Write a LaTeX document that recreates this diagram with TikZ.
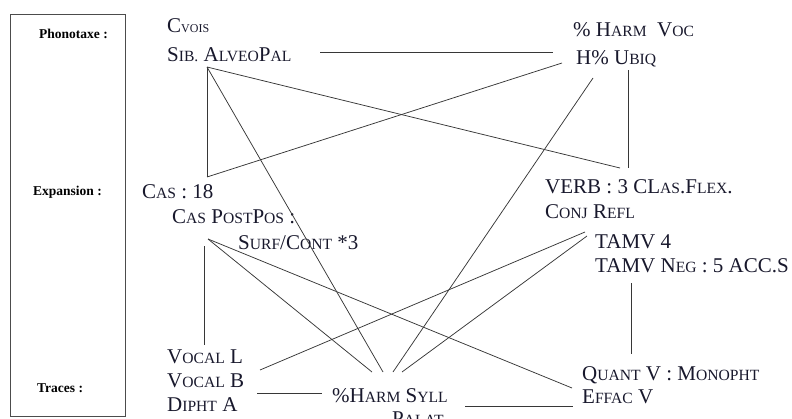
\documentclass[tikz,border=0pt]{standalone}
\usepackage{fontspec}
\setmainfont{Liberation Serif}
\newcommand\sk[1]{{\fontsize{15.6}{15.6}\selectfont #1}}
\newcommand\skk[1]{{\fontsize{12}{12}\selectfont #1}}
\definecolor{txtc}{RGB}{24,24,44}
\definecolor{linec}{RGB}{55,55,55}
\tikzset{
  lbl/.style={anchor=base west, inner sep=0pt, font=\fontsize{13.5}{14}\selectfont\bfseries, text=black},
  itm/.style={anchor=base west, inner sep=0pt, font=\fontsize{21}{22}\selectfont, text=txtc},
  conn/.style={draw=linec, line width=0.75pt},
  frame/.style={draw=black!70, line width=0.9pt}
}
\begin{document}
\begin{tikzpicture}[x=1pt,y=-1pt]
\useasboundingbox (0,0) rectangle (792,418);
% left frame and level labels
\node[frame, minimum width=115pt, minimum height=402pt, anchor=north west, inner sep=0pt] (box) at (10,14) {};
\node[lbl] (lphon) at (39,38) {Phonotaxe :};
\node[lbl] (lexp) at (33,195) {Expansion :};
\node[lbl] (ltr) at (37,392) {Traces :};
% text items
\node[itm] (cvois) at (167,32) {C\skk{VOIS}};
\node[itm] (sib) at (167,61) {S\sk{IB.} A\sk{LVEO}P\sk{AL}};
\node[itm] (harmvoc) at (573,36) {\% H\sk{ARM}\ \ V\sk{OC}};
\node[itm] (hubiq) at (576,64) {H\% U\sk{BIQ}};
\node[itm] (cas) at (142,198) {C\sk{AS} : 18};
\node[itm] (caspp) at (172,223) {C\sk{AS} P\sk{OST}P\sk{OS} :};
\node[itm] (surf) at (238,249) {S\sk{URF}/C\sk{ONT} *3};
\node[itm] (verb) at (545,193) {VERB : 3 CL\sk{AS}.F\sk{LEX}.};
\node[itm] (conj) at (545,218) {C\sk{ONJ} R\sk{EFL}};
\node[itm] (tamv) at (595,248) {TAMV 4};
\node[itm] (tneg) at (595,272) {TAMV N\sk{EG} : 5 ACC.S};
\node[itm] (vocl) at (167,363) {V\sk{OCAL} L};
\node[itm] (vocb) at (167,387) {V\sk{OCAL} B};
\node[itm] (dipht) at (167,411) {D\sk{IPHT} A};
\node[itm] (hsyll) at (332,402) {\%H\sk{ARM} S\sk{YLL}};
\node[itm] (palat) at (392,425) {P\sk{ALAT}};
\node[itm] (quant) at (582,380) {Q\sk{UANT} V : M\sk{ONOPHT}};
\node[itm] (effac) at (582,403) {E\sk{FFAC} V};
% connection points
\coordinate (sibR) at (320,52);
\coordinate (hubL) at (553,52);
\coordinate (sibA) at (207,67);
\coordinate (verbTL) at (620,168);
\coordinate (casT) at (207,177);
\coordinate (hsA) at (372,372);
\coordinate (hsB) at (383,372);
\coordinate (hsC) at (393,372);
\coordinate (hsD) at (402,372);
\coordinate (hubLL) at (562,63);
\coordinate (hubB) at (593,78);
\coordinate (hubV) at (628,70);
\coordinate (verbT) at (628,168);
\coordinate (cppB) at (208,239);
\coordinate (effacL) at (572,388);
\coordinate (cppV) at (204,246);
\coordinate (voclT) at (204,345);
\coordinate (tamA) at (585,232);
\coordinate (tamB) at (587,236);
\coordinate (vocbR) at (260,370);
\coordinate (tnegB) at (631,283);
\coordinate (quantT) at (631,354);
\coordinate (vocbR2) at (257,393);
\coordinate (hsL) at (322,393);
\coordinate (palatR) at (465,406);
\coordinate (effacL2) at (573,406);
% connectors
\draw[conn] (sibR) -- (hubL);
\draw[conn] (sibA) -- (verbTL);
\draw[conn] (sibA) -- (casT);
\draw[conn] (sibA) -- (hsB);
\draw[conn] (hubLL) -- (casT);
\draw[conn] (hubB) -- (hsC);
\draw[conn] (hubV) -- (verbT);
\draw[conn] (cppB) -- (effacL);
\draw[conn] (cppB) -- (hsA);
\draw[conn] (cppV) -- (voclT);
\draw[conn] (tamA) -- (vocbR);
\draw[conn] (tamB) -- (hsD);
\draw[conn] (tnegB) -- (quantT);
\draw[conn] (vocbR2) -- (hsL);
\draw[conn] (palatR) -- (effacL2);
\end{tikzpicture}
\end{document}
